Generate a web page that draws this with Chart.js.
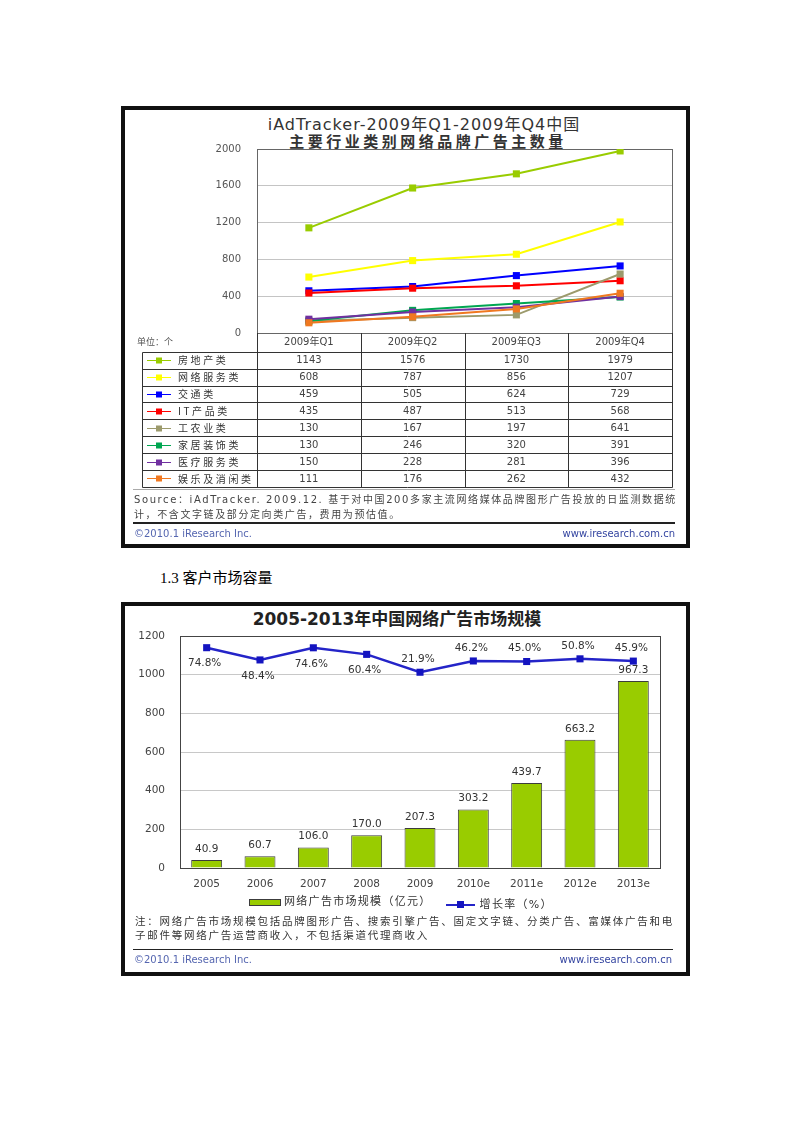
<!DOCTYPE html>
<html>
<head>
<meta charset="utf-8">
<script src="https://cdn.jsdelivr.net/npm/chart.js@4.4.1/dist/chart.umd.min.js"></script>
<style>
  body { margin: 0; width: 800px; height: 1132px; position: relative; overflow: hidden; background: #fff;
         font-family: "DejaVu Sans", "Noto Sans CJK SC", sans-serif; }
  .frame { position: absolute; border: 4px solid #111; box-sizing: border-box; background: #fff; }
  .abs { position: absolute; white-space: nowrap; }
  .rule { position: absolute; height: 0; }
  canvas { position: absolute; }
</style>
</head>
<body>

<!-- chart 1 -->
<div class="frame" style="left:121px;top:106px;width:569px;height:442px;"></div>
<div class="abs" style="left:224px;top:115px;width:400px;text-align:center;font-size:16px;letter-spacing:1px;color:#333;line-height:20px;">iAdTracker-2009年Q1-2009年Q4中国</div>
<div class="abs" style="left:228px;top:133px;width:400px;text-align:center;font-size:15px;font-weight:bold;letter-spacing:3.5px;color:#333;line-height:18px;">主要行业类别网络品牌广告主数量</div>
<canvas id="brands" width="560" height="355" style="left:126px;top:140px;"></canvas>
<div class="rule" style="left:133px;top:489px;width:542px;border-top:1px solid #aaa;"></div>
<div class="abs" style="left:134px;top:493px;font-size:10px;letter-spacing:1.6px;color:#444;line-height:14px;">Source：iAdTracker. 2009.12. 基于对中国200多家主流网络媒体品牌图形广告投放的日监测数据统</div>
<div class="abs" style="left:134px;top:508px;font-size:10px;letter-spacing:1.6px;color:#444;line-height:14px;">计，不含文字链及部分定向类广告，费用为预估值。</div>
<div class="rule" style="left:133px;top:522px;width:542px;border-top:2px solid #222;"></div>
<div class="abs" style="left:134px;top:527px;font-size:10px;color:#5566b0;line-height:13px;">©2010.1 iResearch Inc.</div>
<div class="abs" style="left:475px;top:527px;width:200px;text-align:right;font-size:10px;color:#3344a0;line-height:13px;">www.iresearch.com.cn</div>

<!-- section heading -->
<div class="abs" style="left:160px;top:568px;font-size:15px;line-height:20px;color:#000;font-family:'Liberation Serif','Noto Sans CJK SC',serif;">1.3 客户市场容量</div>

<!-- chart 2 -->
<div class="frame" style="left:121px;top:602px;width:569px;height:374px;"></div>
<div class="abs" style="left:247px;top:608px;width:300px;text-align:center;font-size:17px;font-weight:bold;color:#222;line-height:22px;">2005-2013年中国网络广告市场规模</div>
<canvas id="market" width="560" height="270" style="left:126px;top:628px;"></canvas>
<div id="legend2" class="abs" style="left:249px;top:894px;height:16px;font-size:11px;letter-spacing:1.3px;color:#333;line-height:16px;"></div>
<div class="abs" style="left:135px;top:914px;font-size:10.5px;letter-spacing:1.75px;color:#333;line-height:14px;">注：网络广告市场规模包括品牌图形广告、搜索引擎广告、固定文字链、分类广告、富媒体广告和电</div>
<div class="abs" style="left:135px;top:928px;font-size:10.5px;letter-spacing:1.75px;color:#333;line-height:14px;">子邮件等网络广告运营商收入，不包括渠道代理商收入</div>
<div class="rule" style="left:133px;top:949px;width:540px;border-top:1px solid #222;"></div>
<div class="abs" style="left:134px;top:953px;font-size:10px;color:#5566b0;line-height:13px;">©2010.1 iResearch Inc.</div>
<div class="abs" style="left:472px;top:953px;width:200px;text-align:right;font-size:10px;color:#3344a0;line-height:13px;">www.iresearch.com.cn</div>

<script>
// ---- chart 1 data: brand advertisers by industry, 2009 Q1–Q4 ----
const QUARTERS = ["2009年Q1", "2009年Q2", "2009年Q3", "2009年Q4"];
const SERIES_NAMES = ["房地产类", "网络服务类", "交通类", "IT产品类", "工农业类", "家居装饰类", "医疗服务类", "娱乐及消闲类"];
const REAL_ESTATE = [1143, 1576, 1730, 1979];
const WEB_SERVICES = [608, 787, 856, 1207];
const TRANSPORT = [459, 505, 624, 729];
const IT_PRODUCTS = [435, 487, 513, 568];
const INDUSTRY_AGRI = [130, 167, 197, 641];
const HOME_DECOR = [130, 246, 320, 391];
const MEDICAL = [150, 228, 281, 396];
const ENTERTAINMENT = [111, 176, 262, 432];
const SERIES_COLORS = ["#99cc00", "#ffff00", "#0000ff", "#ff0000", "#9c9a6c", "#00a651", "#7030a0", "#f07820"];
const BRAND_TICKS = [0, 400, 800, 1200, 1600, 2000];

// ---- chart 2 data: online ad market size 2005–2013 ----
const YEARS = ["2005", "2006", "2007", "2008", "2009", "2010e", "2011e", "2012e", "2013e"];
const MARKET_SIZE = [40.9, 60.7, 106.0, 170.0, 207.3, 303.2, 439.7, 663.2, 967.3];
const GROWTH_RATE = [74.8, 48.4, 74.6, 60.4, 21.9, 46.2, 45.0, 50.8, 45.9];
const MARKET_TICKS = [0, 200, 400, 600, 800, 1000, 1200];
const MARKET_LABEL = "网络广告市场规模（亿元）";
const GROWTH_LABEL = "增长率（%）";

const SERIES = [REAL_ESTATE, WEB_SERVICES, TRANSPORT, IT_PRODUCTS, INDUSTRY_AGRI, HOME_DECOR, MEDICAL, ENTERTAINMENT];

Chart.defaults.font.family = "'DejaVu Sans', 'Noto Sans CJK SC', sans-serif";
Chart.defaults.animation = false;

const CLEAR = "rgba(0,0,0,0)";

/** Thin frame around the plot area. */
const plotBorder = {
  id: "plotBorder",
  beforeDatasetsDraw(chart, args, opts) {
    const { ctx, chartArea: a } = chart;
    ctx.save();
    ctx.strokeStyle = opts.color || "#555";
    ctx.lineWidth = 1;
    ctx.strokeRect(Math.round(a.left) + 0.5, Math.round(a.top) + 0.5, Math.round(a.width), Math.round(a.height));
    ctx.restore();
  },
};

/** Data table under the quarter labels, columns taken from the x scale. */
const seriesTable = {
  id: "seriesTable",
  afterDraw(chart) {
    const { ctx, chartArea: area } = chart;
    const x = chart.scales.x;
    const n = QUARTERS.length;
    const step = x.getPixelForValue(1) - x.getPixelForValue(0);
    const edges = [];
    for (let i = 0; i <= n; i++) {
      edges.push(Math.round(x.getPixelForValue(0) - step / 2 + i * step) + 0.5);
    }
    const tableLeft = 16.5;
    const headBottom = area.bottom + 18.7;
    const rowH = 16.9;
    const rows = SERIES.length;
    const tableBottom = headBottom + rows * rowH;

    ctx.save();
    ctx.strokeStyle = "#333";
    ctx.lineWidth = 1;
    ctx.beginPath();
    edges.forEach((e) => {
      ctx.moveTo(e, area.bottom);
      ctx.lineTo(e, Math.round(tableBottom) + 0.5);
    });
    ctx.moveTo(tableLeft, Math.round(headBottom) + 0.5);
    ctx.lineTo(tableLeft, Math.round(tableBottom) + 0.5);
    for (let r = 0; r <= rows; r++) {
      const yy = Math.round(headBottom + r * rowH) + 0.5;
      ctx.moveTo(tableLeft, yy);
      ctx.lineTo(edges[n], yy);
    }
    ctx.stroke();

    ctx.textBaseline = "middle";
    ctx.fillStyle = "#555";
    ctx.font = "9px 'DejaVu Sans', 'Noto Sans CJK SC'";
    ctx.textAlign = "left";
    ctx.fillText("单位：个", 11, area.bottom + 9.5);

    SERIES.forEach((data, r) => {
      const cy = headBottom + r * rowH + rowH / 2;
      const color = SERIES_COLORS[r];
      ctx.strokeStyle = color;
      ctx.beginPath();
      ctx.moveTo(21, Math.round(cy) + 0.5);
      ctx.lineTo(45, Math.round(cy) + 0.5);
      ctx.stroke();
      ctx.fillStyle = color;
      ctx.fillRect(30, Math.round(cy) - 2.5, 6, 6);

      ctx.fillStyle = "#333";
      ctx.textAlign = "left";
      ctx.font = "10px 'Noto Sans CJK SC', 'DejaVu Sans'";
      if ("letterSpacing" in ctx) ctx.letterSpacing = "2.6px";
      ctx.fillText(SERIES_NAMES[r], 52, cy + 0.5);
      if ("letterSpacing" in ctx) ctx.letterSpacing = "0px";

      ctx.textAlign = "center";
      ctx.fillStyle = "#444";
      ctx.font = "10px 'DejaVu Sans'";
      data.forEach((v, i) => ctx.fillText(String(v), x.getPixelForValue(i), cy + 0.5));
    });
    ctx.restore();
  },
};

new Chart(document.getElementById("brands"), {
  type: "line",
  data: {
    labels: QUARTERS,
    datasets: SERIES.map((data, i) => ({
      label: SERIES_NAMES[i],
      data,
      borderColor: SERIES_COLORS[i],
      backgroundColor: SERIES_COLORS[i],
      borderWidth: 2,
      pointStyle: "rect",
      pointRadius: 5,
      pointHoverRadius: 5,
      pointBorderWidth: 0,
      tension: 0,
      order: SERIES.length - i,
    })),
  },
  options: {
    responsive: false,
    layout: { padding: { top: 9, right: 14, bottom: 142, left: 0 } },
    plugins: {
      legend: { display: false },
      tooltip: { enabled: false },
      plotBorder: { color: "#666" },
    },
    scales: {
      x: {
        offset: true,
        grid: { display: false, drawTicks: false },
        border: { display: false },
        ticks: { color: "#444", font: { size: 10 }, padding: 3, maxRotation: 0 },
        afterFit(scale) { scale.height = 20; },
      },
      y: {
        min: BRAND_TICKS[0],
        max: BRAND_TICKS[BRAND_TICKS.length - 1],
        afterBuildTicks(scale) { scale.ticks = BRAND_TICKS.map((value) => ({ value })); },
        grid: { color: "#c4c4c4", drawTicks: true, tickLength: 16, tickColor: CLEAR },
        border: { display: false },
        ticks: { color: "#555", font: { size: 10 }, padding: 0, callback: (v) => String(v) },
        afterFit(scale) { scale.width = 131; },
      },
    },
  },
  plugins: [plotBorder, seriesTable],
});

/** Value labels: market size above bars, growth rate next to points. */
const valueLabels = {
  id: "valueLabels",
  afterDatasetsDraw(chart) {
    const { ctx } = chart;
    const bars = chart.getDatasetMeta(0).data;
    const points = chart.getDatasetMeta(1).data;
    ctx.save();
    ctx.font = "10.5px 'DejaVu Sans'";
    ctx.fillStyle = "#333";
    ctx.textAlign = "center";
    ctx.textBaseline = "middle";
    bars.forEach((bar, i) => ctx.fillText(MARKET_SIZE[i].toFixed(1), bar.x, bar.y - 11));
    points.forEach((pt, i) => {
      const dy = i < 4 ? 16 : -13;
      ctx.fillText(GROWTH_RATE[i].toFixed(1) + "%", pt.x - 2, pt.y + dy);
    });
    ctx.restore();
  },
};

const market = new Chart(document.getElementById("market"), {
  data: {
    labels: YEARS,
    datasets: [
      {
        type: "bar",
        label: MARKET_LABEL,
        data: MARKET_SIZE,
        yAxisID: "y",
        backgroundColor: "#99cc00",
        borderColor: "#3c3c3c",
        borderWidth: 1,
        barPercentage: 0.58,
        categoryPercentage: 1,
        order: 1,
      },
      {
        type: "line",
        label: GROWTH_LABEL,
        data: GROWTH_RATE,
        yAxisID: "y2",
        borderColor: "#2424c8",
        backgroundColor: "#1414c0",
        borderWidth: 2.5,
        pointStyle: "rect",
        pointRadius: 5,
        pointHoverRadius: 5,
        pointBorderWidth: 0,
        tension: 0,
        order: 0,
      },
    ],
  },
  options: {
    responsive: false,
    layout: { padding: { top: 8, right: 26, bottom: 0, left: 0 } },
    plugins: {
      legend: { display: false },
      tooltip: { enabled: false },
      plotBorder: { color: "#444" },
    },
    scales: {
      x: {
        grid: { display: false, drawTicks: false },
        border: { display: false },
        ticks: { color: "#444", font: { size: 10.5 }, padding: 10, maxRotation: 0 },
        afterFit(scale) { scale.height = 30; },
      },
      y: {
        min: MARKET_TICKS[0],
        max: MARKET_TICKS[MARKET_TICKS.length - 1],
        afterBuildTicks(scale) { scale.ticks = MARKET_TICKS.map((value) => ({ value })); },
        grid: { color: "#c8c8c8", drawTicks: true, tickLength: 15, tickColor: CLEAR },
        border: { display: false },
        ticks: { color: "#444", font: { size: 10.5 }, padding: 0, callback: (v) => String(v) },
        afterFit(scale) { scale.width = 54; },
      },
      y2: { display: false, min: -400, max: 100 },
    },
  },
  plugins: [plotBorder, valueLabels],
});

// legend for chart 2 built from the dataset labels
const legend2 = document.getElementById("legend2");
market.data.datasets.forEach((ds) => {
  const item = document.createElement("span");
  item.style.cssText = "display:inline-flex;align-items:center;margin-right:14px;";
  const key = document.createElement("span");
  if (ds.type === "bar") {
    key.style.cssText = `display:inline-block;width:30px;height:5px;background:${ds.backgroundColor};border:1px solid #3c3c3c;margin-right:3px;`;
  } else {
    key.style.cssText = `display:inline-block;position:relative;width:29px;height:2px;background:${ds.borderColor};margin-right:5px;`;
    const dot = document.createElement("span");
    dot.style.cssText = `position:absolute;left:11px;top:-3px;width:7px;height:7px;background:${ds.backgroundColor};`;
    key.appendChild(dot);
  }
  item.appendChild(key);
  item.appendChild(document.createTextNode(ds.label));
  legend2.appendChild(item);
});
</script>
</body>
</html>
